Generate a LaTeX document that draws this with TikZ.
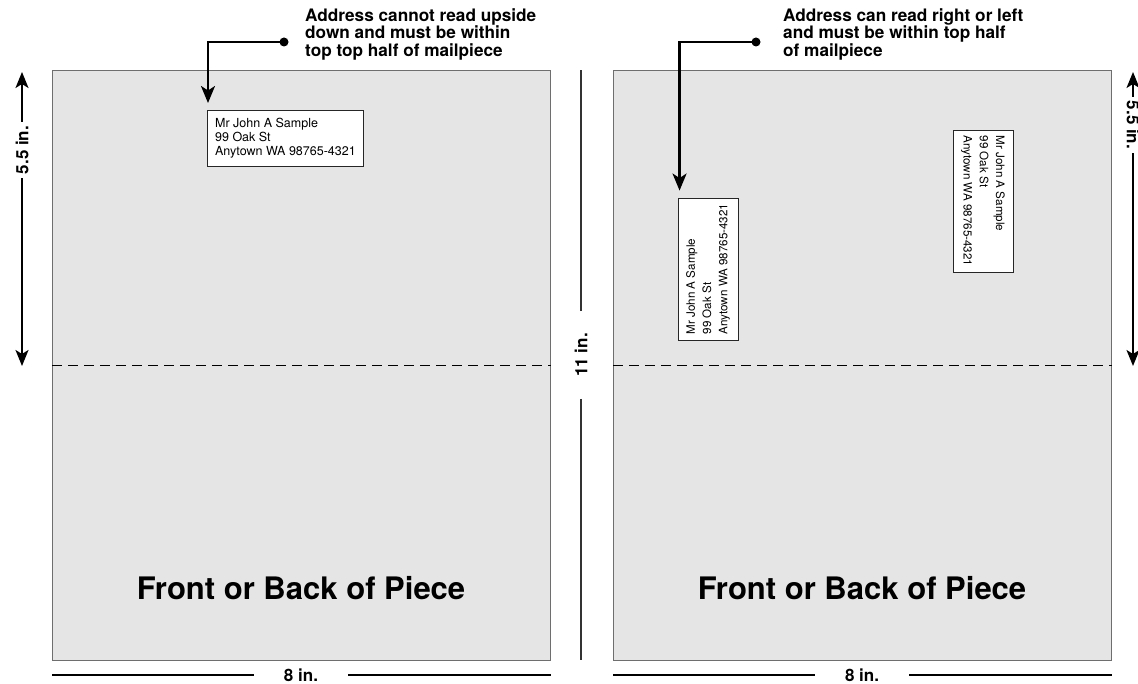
\documentclass[tikz,border=0pt]{standalone}
\usepackage{fontspec}
\setmainfont{TeX Gyre Heros}
\usetikzlibrary{arrows.meta,positioning}

\begin{document}
\begin{tikzpicture}[x=1pt,y=-1pt,
  panel/.style={draw=edgegray,fill=cardgray,line width=1.2pt,minimum width=498pt,minimum height=590pt,inner sep=0pt},
  fold/.style={line width=1.5pt,dash pattern=on 10pt off 6pt},
  addr/.style={draw=black!85,fill=white,line width=0.9pt,align=left,inner sep=0pt,font=\fontsize{12.5}{14}\selectfont},
  addrup/.style={addr,minimum width=142pt,minimum height=60pt,font=\fontsize{11.6}{16.2}\selectfont},
  note/.style={align=left,inner sep=0pt,font=\fontsize{17.2}{17.5}\selectfont\bfseries},
  title/.style={font=\fontsize{31}{36}\selectfont\bfseries},
  dim/.style={font=\fontsize{17}{20}\selectfont\bfseries,inner ysep=0pt,inner xsep=4pt},
  dimline/.style={line width=1.8pt},
  midline/.style={line width=2pt,draw=black!80},
  dimarrow/.style={line width=1.8pt,-{Stealth[length=16pt,width=13pt,inset=4pt]}},
  callout/.style={line width=2.4pt,-{Stealth[length=17pt,width=14pt,inset=4.5pt]}},
  dot/.style={circle,fill=black,inner sep=0pt,minimum size=9pt}]
\definecolor{cardgray}{HTML}{E5E5E5}
\definecolor{edgegray}{HTML}{6E6E6E}

\path[fill=white,use as bounding box] (0,0) rectangle (1138,684);

% the two mailpieces
\foreach \n/\x in {l/52,r/613} {
  \node[panel,anchor=north west] (panel-\n) at (\x,70) {};
  \draw[fold] (panel-\n.west) -- (panel-\n.east);
  \node[title] (title-\n) at ({\x+249},588) {Front or Back of Piece};
  \node[dim,inner xsep=30pt] (width-\n) at ({\x+249},675) {8 in.};
  \draw[dimline] (panel-\n.south west |- width-\n.west) -- (width-\n.west);
  \draw[dimline] (width-\n.east) -- (panel-\n.south east |- width-\n.east);
}

% address labels
\node[addr,anchor=north west,minimum width=156pt,minimum height=56pt] (addr-l) at (207,110)
  {Mr John A Sample\\99 Oak St\\Anytown WA 98765-4321};
\node[addrup,rotate=90] (addr-r) at (708,269)
  {Mr John A Sample\\99 Oak St\\Anytown WA 98765-4321};
\node[addrup,rotate=-90] (addr-rr) at (983,201)
  {Mr John A Sample\\99 Oak St\\Anytown WA 98765-4321};

% callouts
\node[note,anchor=north west] (note-l) at (305,8)
  {Address cannot read upside\\down and must be within\\top top half of mailpiece};
\node[note,anchor=north west] (note-r) at (783,8)
  {Address can read right or left\\and must be within top half\\of mailpiece};
\node[dot] (dot-l) at (284,42) {};
\node[dot] (dot-r) at (756,42) {};
\draw[callout] (dot-l.center) -| ([xshift=1pt,yshift=7pt]addr-l.north west);
\draw[callout] (dot-r.center) -| ([xshift=2pt,yshift=7pt]addr-r.north east);

% heights
\node[dim,rotate=90] (height-l) at (22,150) {5.5 in.};
\node[dim,rotate=-90] (height-r) at (1133,125) {5.5 in.};
\coordinate (htop-l) at (22,72);
\coordinate (hbot-l) at (22,366);
\coordinate (htop-r) at (1133,72);
\coordinate (hbot-r) at (1133,366);
\draw[dimarrow] (height-l.east) -- (htop-l);
\draw[dimarrow] (height-l.west) -- (hbot-l);
\draw[dimarrow] (height-r.west) -- (htop-r);
\draw[dimarrow] (height-r.east) -- (hbot-r);

\node[dim,rotate=90,inner xsep=22pt] (height-m) at (581,355) {11 in.};
\coordinate (mtop) at (581,70);
\coordinate (mbot) at (581,660);
\draw[midline] (height-m.east) -- (mtop);
\draw[midline] (height-m.west) -- (mbot);
\end{tikzpicture}
\end{document}
